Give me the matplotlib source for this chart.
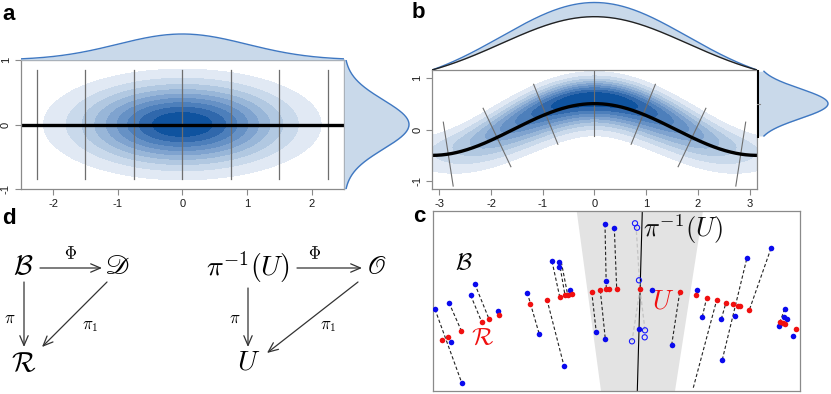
import numpy as np
import matplotlib
matplotlib.use("Agg")
import matplotlib.pyplot as plt

W, H = 831, 394

# ---- panel a : gaussian density with straight fibres -------------------
a_sigma_x, a_sigma_y = 1.0, 0.4
a_fibre_x = [-2.25, -1.5, -0.75, 0.0, 0.75, 1.5, 2.25]
a_fibre_half = 0.85
a_xticks = [-2, -1, 0, 1, 2]
a_yticks = [-1, 0, 1]

# ---- panel b : density around the curve y = 0.5 cos x -------------------
b_amp = 0.5
b_sigma_t = 1.75
b_s_peak = 0.1          # darkest part sits a little above the curve
b_s_half = 0.62         # half width of the band along the normals
b_fibre_t = [-0.9 * np.pi, -0.6 * np.pi, -0.3 * np.pi, 0.0,
             0.3 * np.pi, 0.6 * np.pi, 0.9 * np.pi]
b_top_sigma = 1.8       # top marginal: gaussian cut to zero at +-pi
b_top_blue, b_top_black = 1.0, 0.79
b_right_sigma = 0.29
b_xticks = [-3, -2, -1, 0, 1, 2, 3]
b_yticks = [-1, 0, 1]

density_levels = [0.1, 0.2, 0.3, 0.4, 0.5, 0.6, 0.7, 0.8, 0.9, 1.01]
density_colors = ['#e1e9f4', '#c9d9eb', '#b1c8e1', '#98b6d8', '#7fa3cf',
                  '#6691c5', '#4d7fbb', '#3068ac', '#0f539f']

# ---- panel c : points of B (blue) on fibres over R (red) ----------------
c_blue_x = [2, 16, 17.7, 28.7, 37.7, 41.7, 65, 94.3, 106.3, 119, 126.3, 126.3,
            136.5, 131, 172, 181.3, 173.3, 163.3, 172.3, 206, 219.3, 238.7,
            264.3, 269.3, 288.3, 289.3, 302, 314, 338, 351.7, 351, 354, 345.7, 360]
c_blue_y = [81.7, 88.3, 49, 8.3, 95.7, 107.3, 80, 98.3, 56.7, 129.7, 128.7, 124,
            101, 25, 167, 163, 110, 58.7, 52, 62, 101, 46.3,
            100.7, 74.3, 72, 31.3, 75.3, 133.3, 142.7, 82, 74, 72, 65.3, 54.7]
c_open_x = [202, 204, 206, 212, 211.7, 199]
c_open_y = [167.7, 163.3, 110.7, 60.7, 53.7, 49.7]
c_red_x = [8.7, 14.7, 28.3, 48.7, 56, 66.3, 97, 114, 126.7, 132, 134.7, 138.7,
           158.7, 167.3, 173.3, 176.3, 183.7, 207, 246.7, 263, 273.7, 283.7,
           293, 299.7, 305.3, 306.7, 316.3, 347, 349.7, 352.3, 363]
c_red_y = [51, 54, 60.3, 69, 72, 76, 87, 91.3, 94.3, 95.7, 96, 96.7,
           99.3, 100.7, 101.7, 101.7, 102, 102, 98.7, 96, 93.3, 91,
           88.3, 86.7, 85, 84.7, 81, 69.3, 68.3, 67.3, 62.3]
c_fibres = [(2, 81.7, 28.7, 8.3), (16, 88.3, 28.3, 60.3), (41.7, 107.3, 56, 72),
            (37.7, 95.7, 48.7, 69), (94.3, 98.3, 106.3, 56.7), (114, 91.3, 131, 25),
            (119, 129.7, 126.7, 94.3), (126.3, 128.7, 132, 95.7),
            (128.3, 129, 134.7, 96), (172, 167, 173.3, 101.7),
            (181.3, 163, 183.7, 102), (158.7, 99.3, 163.3, 58.7),
            (167.3, 100.7, 172.3, 52), (246.7, 98.7, 238.7, 46.3),
            (260.3, 3.3, 283.7, 91), (289.3, 31.3, 314, 133.3),
            (338, 142.7, 316.3, 81), (269.3, 74.3, 273.7, 93.3),
            (288.3, 72, 293, 88.3), (351.7, 82, 347, 69.3)]
c_light_fibres = [(203, 166, 207, 102), (207, 102, 199, 49.7), (207, 102, 212, 60.7)]
c_shade_x = [143.7, 270, 242, 168]
c_shade_y = [180, 180, 0, 0]
c_line_x = [209.3, 204.3]
c_line_y = [180, 0]

plt.rcParams['font.family'] = ['Liberation Sans', 'DejaVu Sans']
plt.rcParams['mathtext.fontset'] = 'cm'
plt.rcParams['axes.unicode_minus'] = False

FRAME = '#8a8a8a'
FILL = '#c9d9ea'
EDGE = '#3f78c2'

fig = plt.figure(figsize=(W / 100, H / 100), dpi=100)


def px_axes(x0, y0, x1, y1):
    return fig.add_axes([x0 / W, 1 - y1 / H, (x1 - x0) / W, (y1 - y0) / H])


def frame(ax):
    for sp in ax.spines.values():
        sp.set_color(FRAME)
        sp.set_linewidth(0.9)


def r_ticks(ax, xt, yt):
    frame(ax)
    ax.set_xticks(xt)
    ax.set_yticks(yt)
    ax.set_xticklabels([str(v) for v in xt])
    ax.set_yticklabels([str(v) for v in yt], rotation=90, va='center')
    ax.tick_params(length=4, width=0.8, color=FRAME, labelsize=8,
                   labelcolor='#1a1a1a', pad=3)


def bare(ax):
    ax.set_axis_off()


# ---------------- panel a ----------------
ax = px_axes(20.7, 60, 344, 189)
gx, gy = np.meshgrid(np.linspace(-2.5, 2.5, 500), np.linspace(-1, 1, 300))
za = np.exp(-0.5 * ((gx / a_sigma_x) ** 2 + (gy / a_sigma_y) ** 2))
ax.contourf(gx, gy, za, levels=density_levels, colors=density_colors)
for xv in a_fibre_x:
    ax.plot([xv, xv], [-a_fibre_half, a_fibre_half], color='#6e6e6e', lw=0.9)
ax.axhline(0, color='black', lw=2.4)
ax.set_xlim(-2.5, 2.5)
ax.set_ylim(-1, 1)
r_ticks(ax, a_xticks, a_yticks)

ax = px_axes(20.7, 28, 344, 60)
xs = np.linspace(-2.5, 2.5, 400)
top = np.exp(-0.5 * (xs / a_sigma_x) ** 2)
ax.fill_between(xs, 0, top, color=FILL, lw=0)
ax.plot(xs, top, color=EDGE, lw=1)
ax.set_xlim(-2.5, 2.5)
ax.set_ylim(0, 32 / 26)
bare(ax)

ax = px_axes(344, 60, 416, 189)
ys = np.linspace(-1, 1, 400)
right = np.exp(-0.5 * (ys / 0.38) ** 2)
ax.fill_betweenx(ys, 0, right, color=FILL, lw=0)
ax.plot(right, ys, color=EDGE, lw=1)
ax.set_ylim(-1, 1)
ax.set_xlim(0, 72 / 65)
bare(ax)

# ---------------- panel b ----------------
ax = px_axes(432, 70, 757, 189)
t = np.linspace(-3.8, 3.8, 600)
s = np.linspace(-b_s_half * 1.2, b_s_half * 1.2, 160)
T, S = np.meshgrid(t, s)
norm = np.sqrt(1 + (b_amp * np.sin(T)) ** 2)
NX, NY = b_amp * np.sin(T) / norm, 1 / norm
BX = T + S * NX
BY = b_amp * np.cos(T) + S * NY
sig_up = (b_s_half - b_s_peak) / 2.146
sig_dn = (b_s_half + b_s_peak) / 2.146
sig = np.where(S > b_s_peak, sig_up, sig_dn)
zb = np.exp(-0.5 * (T / b_sigma_t) ** 2) * np.exp(-0.5 * ((S - b_s_peak) / sig) ** 2)
ax.contourf(BX, BY, zb, levels=density_levels, colors=density_colors)
for tv in b_fibre_t:
    n = np.sqrt(1 + (b_amp * np.sin(tv)) ** 2)
    nx, ny = b_amp * np.sin(tv) / n, 1 / n
    cx, cy = tv, b_amp * np.cos(tv)
    ax.plot([cx - 0.625 * nx, cx + 0.625 * nx], [cy - 0.625 * ny, cy + 0.625 * ny],
            color='#6e6e6e', lw=0.8)
xc = np.linspace(-np.pi, np.pi, 400)
ax.plot(xc, b_amp * np.cos(xc), color='black', lw=2.4)
ax.set_xlim(-np.pi, np.pi)
ax.set_ylim(-1.15, 1.15)
r_ticks(ax, b_xticks, b_yticks)

ax = px_axes(432, 0, 757, 70)
xb = np.linspace(-np.pi, np.pi, 400)
cut = np.exp(-0.5 * (np.pi / b_top_sigma) ** 2)
shape = (np.exp(-0.5 * (xb / b_top_sigma) ** 2) - cut) / (1 - cut)
ax.fill_between(xb, b_top_black * shape, b_top_blue * shape, color=FILL, lw=0)
ax.plot(xb, b_top_blue * shape, color=EDGE, lw=1)
ax.plot(xb, b_top_black * shape, color='#222222', lw=1)
ax.set_xlim(-np.pi, np.pi)
ax.set_ylim(0, 70 / 67.5)
bare(ax)

ax = px_axes(757, 70, 831, 189)
yb = np.linspace(b_amp - 0.625, b_amp + 0.625, 300)
rb = np.exp(-0.5 * ((yb - b_amp) / b_right_sigma) ** 2)
ax.fill_betweenx(yb, 0, rb, color=FILL, lw=0)
ax.plot(rb, yb, color=EDGE, lw=1)
ax.plot([0, 0], [b_amp - 0.625, 1.15], color='black', lw=2.2)
ax.plot([0, 0.04], [b_amp, b_amp], color=FRAME, lw=0.8)
ax.set_ylim(-1.15, 1.15)
ax.set_xlim(0, 74 / 71)
bare(ax)

# ---------------- panel c ----------------
ax = px_axes(433, 211, 800, 391)
ax.fill(c_shade_x, c_shade_y, color='#e3e3e3', lw=0, zorder=0)
ax.plot(c_line_x, c_line_y, color='black', lw=0.8, zorder=1)
for x0, y0, x1, y1 in c_light_fibres:
    ax.plot([x0, x1], [y0, y1], color='#c4c4c4', lw=0.9, ls=(0, (3, 2)), zorder=2)
for x0, y0, x1, y1 in c_fibres:
    ax.plot([x0, x1], [y0, y1], color='#222222', lw=0.8, ls=(0, (3, 2)), zorder=2)
ax.scatter(c_open_x, c_open_y, s=14, facecolors='none', edgecolors='#1a1aff',
           linewidths=0.8, zorder=3)
ax.scatter(c_blue_x, c_blue_y, s=16, color='#0a0aee', lw=0, zorder=4)
ax.scatter(c_red_x, c_red_y, s=16, color='#f01010', lw=0, zorder=5)
ax.text(210, 162, r'$\pi^{-1}(U)$', fontsize=19, ha='left', va='center', color='#111111')
ax.text(31, 128.5, r'$\mathcal{B}$', fontsize=17, ha='center', va='center')
ax.text(49.5, 54.5, r'$\mathcal{R}$', fontsize=18, ha='center', va='center', color='#f01010')
ax.text(230.5, 89.5, r'$U$', fontsize=19, ha='center', va='center', color='#f01010')
ax.set_xlim(0, 367)
ax.set_ylim(0, 180)
ax.set_xticks([])
ax.set_yticks([])
frame(ax)

# ---------------- panel d ----------------
ax = px_axes(0, 200, 420, 394)
ax.set_xlim(0, 420)
ax.set_ylim(194, 0)
bare(ax)


def node(x, y, txt, size=20, **kw):
    ax.text(x, y - 200, txt, fontsize=size, ha='center', va='center', **kw)


def arrow(x0, y0, x1, y1):
    ax.annotate('', xy=(x1, y1 - 200), xytext=(x0, y0 - 200),
                arrowprops=dict(arrowstyle='->,head_length=0.7,head_width=0.3',
                                lw=0.9, color='#333333', shrinkA=0, shrinkB=0))


node(23, 267, r'$\mathcal{B}$')
node(117, 267, r'$\mathscr{D}$', math_fontfamily='stix')
node(24, 364, r'$\mathcal{R}$')
node(70, 254, r'$\Phi$', 12)
node(10, 318, r'$\pi$', 12)
node(90, 327, r'$\pi_1$', 12)
arrow(40, 268, 102, 268)
arrow(24, 282, 24, 347)
arrow(107, 282, 42, 347)

node(247.5, 267, r'$\pi^{-1}(U)$')
node(376, 267, r'$\mathscr{O}$', math_fontfamily='stix')
node(249, 363, r'$U$')
node(315, 254, r'$\Phi$', 12)
node(235, 318, r'$\pi$', 12)
node(328, 327, r'$\pi_1$', 12)
arrow(297, 268, 362, 268)
arrow(248, 288, 248, 347)
arrow(358, 282, 267, 353)

# ---------------- panel letters ----------------
for x, y, lab in [(2, 14, 'a'), (412, 12, 'b'), (413, 216, 'c'), (2, 218, 'd')]:
    fig.text(x / W, 1 - y / H, lab, fontsize=16, fontweight='bold', va='center', ha='left')

fig.savefig('out.png', dpi=100)
